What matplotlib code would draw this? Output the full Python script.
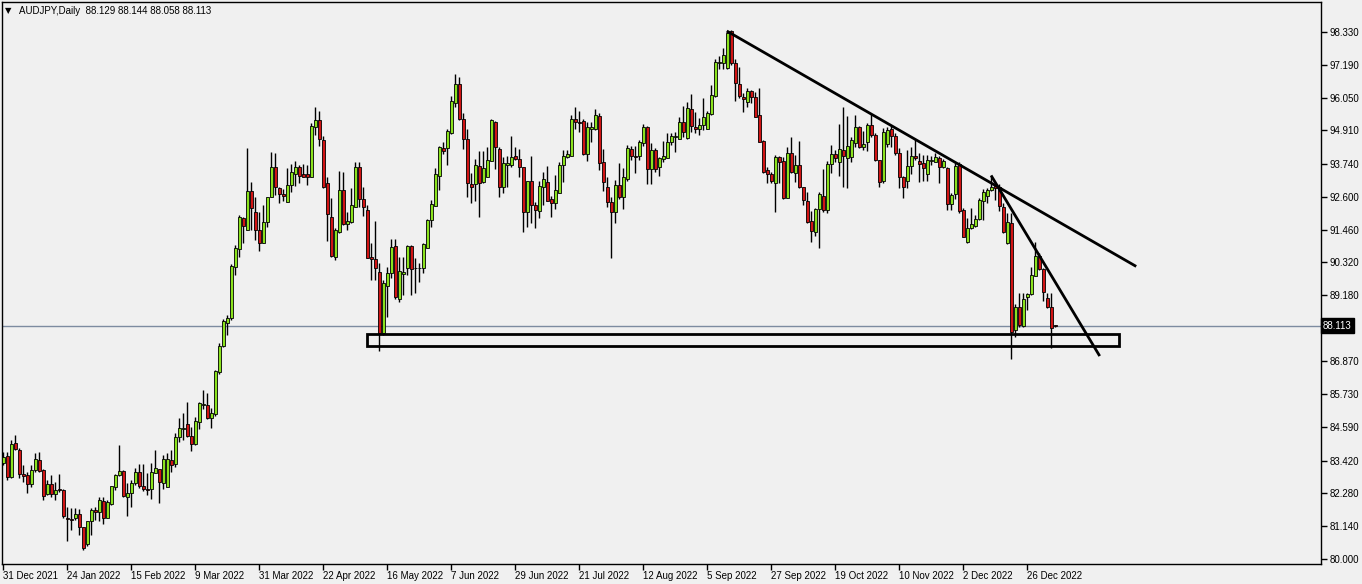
import matplotlib
matplotlib.use("Agg")
import matplotlib.pyplot as plt
from matplotlib.patches import Rectangle
from matplotlib.transforms import blended_transform_factory

plt.rcParams['font.family'] = ['Liberation Sans', 'DejaVu Sans']

# AUDJPY daily candles, 31 Dec 2021 .. early Jan 2023
opens = [
    83.35, 83.58, 82.86, 84.02, 83.79, 82.95, 82.92, 82.60, 83.09, 83.44,
    83.09, 82.25, 82.61, 82.25, 82.42, 82.40, 81.41, 81.39, 81.41, 81.56,
    81.10, 80.51, 81.32, 81.70, 81.62, 82.02, 81.44, 81.93, 82.49, 82.92,
    83.06, 82.17, 82.28, 82.63, 83.01, 82.54, 82.43, 82.42, 82.98, 83.12,
    82.63, 82.49, 83.44, 83.29, 84.23, 84.51, 84.69, 84.28, 84.00, 84.75,
    85.35, 85.37, 84.89, 85.06, 86.51, 87.42, 88.22, 88.37, 90.17, 90.77,
    91.85, 91.44, 92.80, 92.08, 91.44, 90.98, 91.73, 92.58, 93.62, 92.89,
    92.70, 92.43, 93.01, 93.39, 93.62, 93.38, 93.38, 93.27, 95.01, 95.27,
    94.57, 93.07, 91.88, 90.51, 91.38, 92.83, 91.64, 91.73, 92.25, 93.65,
    92.51, 92.14, 90.51, 90.42, 89.99, 87.85, 89.50, 89.93, 90.90, 89.03,
    89.90, 90.11, 90.88, 90.13, 90.11, 90.11, 90.83, 91.79, 92.29, 93.33,
    94.28, 94.31, 94.80, 95.85, 96.51, 95.29, 94.60, 93.03, 93.03, 93.66,
    93.10, 93.27, 93.85, 95.20, 94.25, 92.95, 93.71, 93.72, 94.00, 93.90,
    93.62, 92.08, 93.15, 92.31, 92.12, 92.95, 93.10, 92.52, 92.39, 92.74,
    93.70, 93.97, 94.03, 95.29, 95.21, 95.24, 94.10, 94.94, 94.94, 95.41,
    93.80, 92.93, 92.43, 92.08, 93.00, 92.58, 93.21, 94.25, 94.02, 94.02,
    94.46, 95.01, 93.55, 94.23, 93.62, 93.90, 93.94, 94.49, 94.69, 94.60,
    95.19, 94.63, 95.64, 95.01, 94.97, 95.08, 94.95, 95.48, 96.11, 97.24,
    97.24, 97.07, 98.37, 97.24, 96.52, 96.08, 95.91, 96.28, 96.06, 95.44,
    94.54, 93.53, 93.39, 93.07, 93.99, 93.84, 92.57, 94.11, 93.44, 93.70,
    92.93, 92.45, 91.75, 91.38, 92.16, 92.62, 92.14, 93.74, 94.07, 93.82,
    94.23, 93.96, 93.97, 94.48, 95.01, 94.32, 94.49, 95.10, 94.75, 93.88,
    93.15, 94.42, 94.95, 94.71, 94.11, 93.27, 93.16, 93.68, 94.03, 93.84,
    93.76, 93.39, 93.84, 93.82, 93.94, 93.64, 93.61, 92.33, 92.69, 93.74,
    92.14, 91.04, 91.50, 91.59, 91.81, 92.46, 92.63, 92.83, 92.97, 92.95,
    92.25, 91.00, 91.67, 87.96, 88.75, 88.10, 89.12, 89.21, 89.85, 90.54,
    90.09, 89.07, 88.75, 88.129,
]
highs = [
    83.73, 83.73, 84.14, 84.31, 83.85, 83.27, 83.04, 83.27, 83.67, 83.73,
    83.12, 82.75, 82.92, 82.69, 82.95, 82.42, 81.82, 81.76, 81.76, 81.74,
    81.12, 81.33, 81.76, 81.82, 82.17, 82.17, 82.05, 82.54, 82.95, 83.96,
    83.09, 82.63, 82.75, 83.15, 83.30, 83.30, 82.98, 83.33, 83.79, 83.12,
    83.62, 83.67, 83.79, 84.39, 84.89, 85.09, 85.47, 84.60, 84.95, 85.47,
    85.87, 85.76, 85.24, 86.59, 87.53, 88.33, 88.48, 90.26, 90.92, 91.96,
    91.91, 94.28, 93.12, 92.60, 92.08, 92.31, 92.60, 94.17, 94.11, 92.93,
    92.86, 93.59, 93.74, 93.86, 93.70, 93.74, 93.70, 95.15, 95.73, 95.58,
    94.71, 93.30, 92.54, 91.50, 93.51, 93.47, 92.08, 92.89, 93.82, 93.82,
    92.93, 92.31, 90.98, 91.77, 90.28, 89.70, 90.17, 91.12, 91.12, 90.51,
    90.51, 90.92, 90.92, 90.46, 90.31, 90.98, 91.84, 92.48, 93.59, 94.36,
    94.51, 94.95, 96.10, 96.87, 96.78, 95.52, 94.94, 93.41, 93.91, 94.20,
    94.20, 94.32, 95.29, 95.24, 94.32, 93.99, 94.02, 94.71, 94.32, 94.25,
    93.64, 93.15, 94.00, 92.43, 93.16, 93.45, 93.67, 92.62, 93.35, 93.82,
    94.22, 94.22, 95.44, 95.73, 95.59, 95.29, 95.21, 95.21, 95.64, 95.50,
    94.25, 93.27, 92.60, 93.18, 93.76, 93.59, 94.40, 94.37, 94.37, 94.57,
    95.13, 95.06, 94.46, 94.28, 93.99, 94.54, 94.81, 94.81, 94.86, 95.39,
    95.76, 95.91, 96.17, 95.53, 95.35, 96.02, 95.58, 96.49, 97.39, 97.50,
    97.76, 98.37, 98.40, 97.38, 97.10, 96.20, 96.37, 96.31, 96.26, 96.37,
    94.57, 93.65, 93.47, 94.05, 94.02, 93.99, 94.34, 94.69, 94.05, 94.55,
    92.95, 92.75, 92.10, 92.20, 92.78, 93.55, 93.85, 94.40, 94.22, 95.13,
    95.71, 95.41, 94.69, 95.43, 95.06, 94.89, 95.15, 95.47, 94.83, 93.88,
    94.98, 95.04, 95.06, 94.80, 94.28, 93.32, 94.22, 94.34, 94.60, 94.11,
    94.05, 94.05, 94.00, 94.13, 94.00, 93.90, 93.64, 92.74, 93.76, 93.82,
    92.20, 91.85, 92.20, 91.96, 92.54, 92.86, 92.89, 93.32, 93.06, 93.06,
    92.37, 92.02, 92.02, 88.87, 89.24, 89.24, 89.26, 90.14, 91.04, 90.63,
    90.11, 89.26, 89.26, 88.144,
]
lows = [
    83.27, 82.75, 82.80, 83.79, 82.80, 82.69, 82.28, 82.51, 83.04, 83.04,
    82.05, 82.22, 82.17, 82.05, 82.34, 81.41, 80.63, 81.01, 81.35, 80.83,
    80.33, 80.45, 80.83, 81.35, 81.33, 81.21, 81.41, 81.88, 82.40, 82.90,
    82.17, 81.49, 81.82, 82.57, 82.46, 82.37, 82.22, 82.07, 82.98, 81.96,
    82.42, 82.49, 83.04, 83.21, 84.08, 84.14, 84.25, 83.77, 83.97, 84.52,
    85.23, 84.86, 84.54, 84.97, 86.43, 87.36, 87.79, 88.31, 89.88, 90.49,
    91.00, 91.44, 91.44, 91.09, 90.72, 90.98, 91.53, 92.58, 92.66, 92.37,
    92.46, 92.43, 92.78, 92.97, 93.09, 93.27, 93.01, 93.27, 94.75, 94.38,
    92.90, 91.07, 90.51, 90.40, 91.33, 91.61, 91.44, 91.67, 92.25, 92.25,
    91.93, 90.46, 89.70, 89.70, 87.24, 87.80, 88.43, 89.76, 89.04, 88.95,
    89.18, 89.88, 89.18, 89.24, 89.64, 89.95, 90.83, 91.53, 92.29, 92.83,
    94.07, 93.70, 94.77, 95.71, 95.27, 94.26, 92.58, 92.39, 92.46, 91.90,
    93.09, 93.27, 93.85, 93.55, 92.60, 92.74, 92.93, 93.62, 93.88, 93.29,
    91.38, 91.56, 91.70, 91.50, 91.85, 92.31, 92.45, 91.90, 92.19, 92.74,
    93.12, 93.93, 94.03, 94.94, 94.86, 94.05, 93.85, 94.51, 94.92, 93.53,
    92.81, 92.25, 90.48, 91.67, 92.51, 92.18, 93.16, 93.88, 93.44, 93.88,
    94.37, 93.03, 93.03, 93.47, 93.33, 93.80, 93.94, 94.40, 94.17, 94.60,
    94.67, 94.60, 94.86, 94.81, 94.75, 94.92, 94.95, 95.44, 96.06, 97.03,
    97.03, 97.03, 97.18, 95.94, 96.02, 95.54, 95.71, 95.85, 95.39, 94.52,
    93.41, 93.09, 93.07, 92.08, 93.09, 92.51, 92.54, 93.44, 93.12, 92.92,
    92.31, 91.70, 91.04, 91.23, 90.80, 92.06, 92.05, 93.41, 93.82, 93.33,
    92.95, 92.89, 93.82, 94.34, 94.28, 94.23, 94.20, 94.69, 93.84, 92.93,
    93.07, 94.34, 94.34, 94.05, 92.89, 92.56, 92.89, 93.39, 93.88, 93.12,
    93.15, 93.15, 93.70, 93.80, 93.09, 93.59, 92.14, 92.14, 92.52, 92.02,
    91.19, 91.00, 91.48, 91.56, 91.79, 91.79, 92.37, 92.81, 92.48, 92.10,
    91.35, 90.95, 86.97, 87.73, 88.08, 88.08, 88.66, 89.18, 89.85, 90.05,
    88.98, 88.72, 87.35, 88.058,
]
closes = [
    83.56, 82.86, 84.00, 83.81, 82.95, 82.90, 82.60, 83.09, 83.47, 83.07,
    82.20, 82.61, 82.25, 82.40, 82.40, 81.49, 81.39, 81.35, 81.56, 81.10,
    80.37, 81.32, 81.70, 81.62, 82.05, 81.44, 81.99, 82.54, 82.92, 83.06,
    82.20, 82.28, 82.63, 83.01, 82.55, 82.43, 82.41, 83.01, 83.15, 82.69,
    83.47, 83.47, 83.27, 84.23, 84.54, 84.54, 84.28, 84.00, 84.80, 85.41,
    85.39, 84.89, 85.07, 86.53, 87.42, 88.27, 88.37, 90.19, 90.80, 91.88,
    91.59, 92.80, 92.20, 91.46, 91.00, 91.71, 92.58, 93.62, 92.93, 92.68,
    92.64, 93.01, 93.45, 93.62, 93.32, 93.30, 93.30, 95.06, 95.27, 94.60,
    92.93, 91.99, 90.55, 91.46, 92.83, 91.64, 91.76, 92.30, 93.62, 92.51,
    92.25, 90.48, 90.44, 90.11, 87.85, 89.59, 89.93, 90.84, 89.12, 90.03,
    89.97, 90.88, 90.07, 90.11, 90.13, 90.94, 91.79, 92.33, 93.38, 94.32,
    94.20, 94.88, 95.93, 96.51, 95.30, 94.60, 93.07, 92.95, 93.69, 93.09,
    93.59, 93.88, 95.27, 94.32, 92.93, 93.79, 93.76, 93.97, 93.90, 93.62,
    92.08, 93.15, 92.31, 92.13, 92.97, 93.22, 92.46, 92.39, 92.83, 93.70,
    94.00, 94.07, 95.30, 95.19, 95.15, 94.10, 95.03, 95.03, 95.44, 93.79,
    93.10, 92.43, 92.06, 93.01, 92.60, 93.27, 94.28, 94.03, 93.99, 94.49,
    95.01, 93.58, 94.23, 93.56, 93.94, 94.01, 94.49, 94.70, 94.71, 95.19,
    94.84, 95.68, 95.06, 94.97, 95.08, 95.36, 95.50, 96.13, 97.27, 97.27,
    97.53, 98.31, 97.24, 96.57, 96.12, 95.99, 96.28, 96.08, 95.39, 94.52,
    93.47, 93.39, 93.16, 93.99, 93.82, 92.57, 94.11, 93.47, 93.70, 92.93,
    92.49, 91.73, 91.42, 92.16, 92.69, 92.14, 93.74, 94.07, 93.96, 94.25,
    94.02, 94.36, 94.57, 95.01, 94.32, 94.42, 95.10, 94.75, 93.88, 93.12,
    94.84, 94.92, 94.71, 94.11, 93.27, 92.95, 93.68, 94.03, 93.94, 93.73,
    93.61, 93.88, 93.88, 93.97, 93.64, 93.84, 92.33, 92.66, 93.67, 92.11,
    91.21, 91.50, 91.64, 91.81, 92.48, 92.75, 92.83, 92.93, 92.89, 92.29,
    91.38, 91.71, 87.88, 88.75, 88.14, 89.03, 89.21, 89.88, 90.54, 90.09,
    89.29, 88.75, 88.05, 88.113,
]

date_labels = ['31 Dec 2021', '24 Jan 2022', '15 Feb 2022', '9 Mar 2022',
               '31 Mar 2022', '22 Apr 2022', '16 May 2022', '7 Jun 2022',
               '29 Jun 2022', '21 Jul 2022', '12 Aug 2022', '5 Sep 2022',
               '27 Sep 2022', '19 Oct 2022', '10 Nov 2022', '2 Dec 2022',
               '26 Dec 2022']
price_ticks = [98.330, 97.190, 96.050, 94.910, 93.740, 92.600, 91.460, 90.320,
               89.180, 88.040, 86.870, 85.730, 84.590, 83.420, 82.280, 81.140,
               80.000]

last_price = 88.113
# drawn objects (bar index, price)
trend1_x = [181.25, 283.0]
trend1_y = [98.34, 90.20]
trend2_x = [247.2, 274.0]
trend2_y = [93.30, 87.10]
zone_x = [90.9, 279.0]
zone_y = [87.41, 87.83]

bg = '#f0f0f0'
bull = '#8ae21e'
bear = '#d01414'

fig = plt.figure(figsize=(13.62, 5.84), dpi=100, facecolor=bg)
W, H = 1362, 584
ax = fig.add_axes([2 / W, (H - 564) / H, (1321 - 2) / W, (564 - 2) / H])
ax.set_facecolor(bg)

n = len(closes)
xs = list(range(n))
ax.vlines(xs, lows, highs, color='black', lw=1, zorder=2)
bottoms = [min(o, c) for o, c in zip(opens, closes)]
heights = [max(abs(c - o), 0.0001) for o, c in zip(opens, closes)]
colors = [bull if c >= o else bear for o, c in zip(opens, closes)]
ax.bar(xs, heights, bottom=bottoms, width=0.75, color=colors,
       edgecolor='black', linewidth=0.6, zorder=3)

ax.axhline(last_price, color='#7d8ba0', lw=1, zorder=1)
ax.plot(trend1_x, trend1_y, color='black', lw=2, zorder=4)
ax.plot(trend2_x, trend2_y, color='black', lw=2, zorder=4)
ax.add_patch(Rectangle((zone_x[0], zone_y[0]), zone_x[1] - zone_x[0],
                       zone_y[1] - zone_y[0], fill=False, ec='black',
                       lw=2, zorder=4))

ax.set_xlim(-0.25, 329.5)
ax.set_ylim(79.826, 99.373)

ax.yaxis.tick_right()
ax.set_yticks(price_ticks)
# the 88.040 label sits under the current-price box
ax.set_yticklabels(['' if abs(p - last_price) < 0.3 else '%.3f' % p
                    for p in price_ticks])
ax.set_xticks([16 * i for i in range(len(date_labels))])
ax.set_xticklabels(date_labels, ha='left')
ax.tick_params(axis='both', labelsize=7, length=4, width=1, color='black',
               direction='out')
ax.tick_params(axis='y', pad=2)
ax.tick_params(axis='x', pad=1)
for s in ax.spines.values():
    s.set_color('black')
    s.set_linewidth(1)

tr = blended_transform_factory(ax.transAxes, ax.transData)
ax.text(1.0015, last_price, '%.3f' % last_price, transform=tr, color='white',
        fontsize=7, ha='left', va='center', zorder=10, clip_on=False,
        bbox=dict(boxstyle='square,pad=0.25', fc='black', ec='black'))

fig.text(5 / W, 1 - 11 / H, '\u25bc', fontsize=6, va='center', ha='left',
         family='DejaVu Sans')
fig.text(19 / W, 1 - 11 / H, 'AUDJPY,Daily  88.129 88.144 88.058 88.113',
         fontsize=7, va='center', ha='left')

fig.savefig('out.png', dpi=100, facecolor=bg)
